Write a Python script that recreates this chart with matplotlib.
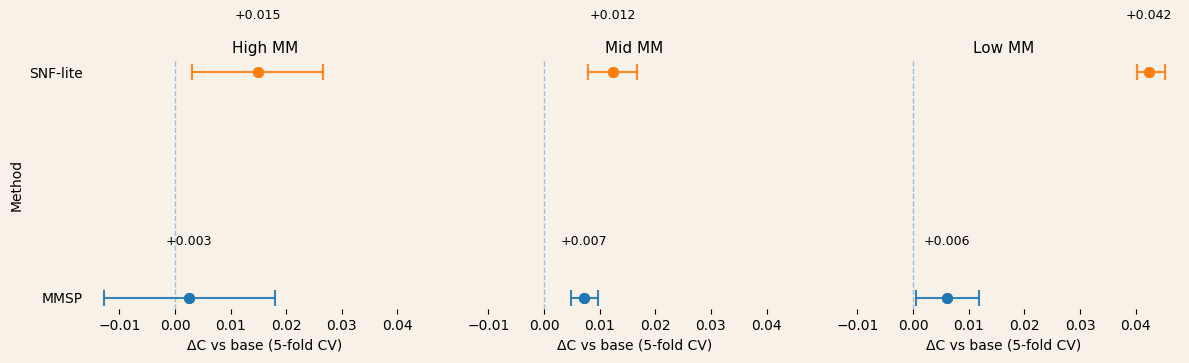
import matplotlib
matplotlib.use("Agg")
import matplotlib.pyplot as plt

panels = ["High MM", "Mid MM", "Low MM"]
methods = ["MMSP", "SNF-lite"]

# mean delta C and CI bounds per panel, order: MMSP, SNF-lite
means = [[0.0025, 0.0149], [0.0072, 0.0124], [0.0061, 0.0424]]
lows = [[-0.0128, 0.0030], [0.0048, 0.0079], [0.0005, 0.0402]]
highs = [[0.0179, 0.0267], [0.0097, 0.0167], [0.0119, 0.0452]]
labels = [["+0.003", "+0.015"], ["+0.007", "+0.012"], ["+0.006", "+0.042"]]

colors = ["#1f77b4", "#ff7f0e"]
bg = "#f7f1e8"


def main():
  fig, axes = plt.subplots(1, 3, figsize=(11.89, 3.63), dpi=100, sharex=True, sharey=True)
  fig.patch.set_facecolor(bg)

  for i, ax in enumerate(axes):
    ax.set_facecolor(bg)
    for j, m in enumerate(methods):
      mu = means[i][j]
      err = [[mu - lows[i][j]], [highs[i][j] - mu]]
      ax.errorbar([mu], [j], xerr=err, fmt="o", color=colors[j], ecolor=colors[j],
                  elinewidth=1.5, capsize=6, capthick=1.5, markersize=7, alpha=0.9)
      ax.plot([mu], [j], "o", color=colors[j], markersize=7)
      ax.text(mu, j + 0.25, labels[i][j], ha="center", va="center", fontsize=9, clip_on=False)
    ax.axvline(0, color="#9fbdd4", linestyle="--", linewidth=1, zorder=0)
    ax.set_title(panels[i], fontsize=11)
    ax.set_xlabel("ΔC vs base (5-fold CV)")
    for s in ax.spines.values():
      s.set_visible(False)
    ax.tick_params(axis="y", length=0)
    ax.set_xticks([-0.01, 0.0, 0.01, 0.02, 0.03, 0.04])

  axes[0].set_yticks([0, 1])
  axes[0].set_yticklabels(methods)
  axes[0].set_ylabel("Method")
  axes[0].set_ylim(-0.05, 1.05)

  plt.subplots_adjust(left=0.0737, right=0.993, bottom=0.148, top=0.832, wspace=0.04)
  plt.savefig("out.png", facecolor=bg)


main()
